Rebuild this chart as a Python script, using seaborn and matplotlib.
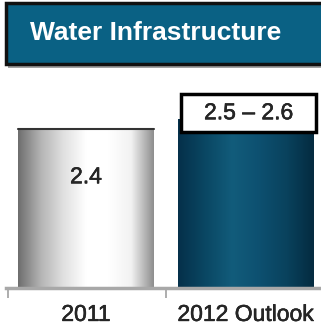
import numpy as np
import pandas as pd
import seaborn as sns
import matplotlib.pyplot as plt
import matplotlib.patheffects as pe
from matplotlib.patches import Rectangle
from matplotlib.colors import LinearSegmentedColormap

# data
years = ['2011', '2012 Outlook']
values = [2.4, 2.55]
labels = ['2.4', '2.5 – 2.6']
title = 'Water Infrastructure'

df = pd.DataFrame({'year': years, 'value': values})

sns.set_style('white')
plt.rcParams['font.family'] = ['Liberation Sans', 'DejaVu Sans']

fig = plt.figure(figsize=(3.21, 3.31), dpi=100)
ax = fig.add_axes([0.019, 0.131, 0.994, 0.658])

sns.barplot(x='year', y='value', data=df, width=0.85, color='white',
            edgecolor='none', ax=ax)
ax.set_xlim(-0.5, 1.5)
ax.set_ylim(0, 3.3)

# gradient fill for each bar
grey = LinearSegmentedColormap.from_list('g', ['#6e6e6e', '#b4b4b4', '#e0e0e0', '#ffffff', '#ffffff', '#f2f2f2', '#8e8e8e'])
teal = LinearSegmentedColormap.from_list('t', ['#05304a', '#0a4763', '#125c7b', '#0d5070', '#09425d', '#042b40'])
grad = np.linspace(0, 1, 256).reshape(1, -1)
for bar, cmap in zip(ax.patches, [grey, teal]):
    x0, w, h = bar.get_x(), bar.get_width(), bar.get_height()
    im = ax.imshow(grad, cmap=cmap, aspect='auto', extent=[x0, x0 + w, 0, h], zorder=2)
    im.set_clip_path(bar)
ax.plot([ax.patches[0].get_x(), ax.patches[0].get_x() + ax.patches[0].get_width()],
        [values[0], values[0]], color='#333333', lw=1.5, zorder=3)

thick = [pe.withStroke(linewidth=0.35, foreground='black')]

# value labels
ax.text(0, 1.68, labels[0], ha='center', va='center', fontsize=16.5, zorder=4, path_effects=thick)
b = ax.patches[1]
box = Rectangle((b.get_x() + 0.02, values[1] - 0.19), b.get_width(), 0.58,
                facecolor='white', edgecolor='black', lw=2.5, zorder=5)
ax.add_patch(box)
ax.text(1.02, values[1] + 0.1, labels[1], ha='center', va='center', fontsize=16.5, zorder=6,
        path_effects=thick)

# axis styling
for s in ['top', 'right', 'left']:
    ax.spines[s].set_visible(False)
ax.spines['bottom'].set_color('#a8a8a8')
ax.spines['bottom'].set_linewidth(2.5)
ax.set_yticks([])
ax.set_xlabel('')
ax.set_ylabel('')
ax.tick_params(axis='x', which='major', length=0, labelsize=16.5, pad=11)
for t in ax.get_xticklabels():
    t.set_path_effects(thick)
ax.set_xticks([-0.49, 0.5], minor=True)
ax.tick_params(axis='x', which='minor', bottom=True, length=7, width=1.2,
               color='#a0a0a0', direction='out')
ax.patch.set_alpha(0)

# title banner with shadow
fig.patches.append(Rectangle((0.024, 0.796), 1.0, 0.185, transform=fig.transFigure,
                             facecolor='#666666', edgecolor='none', alpha=0.6))
fig.patches.append(Rectangle((0.018, 0.806), 1.0, 0.185, transform=fig.transFigure,
                             facecolor='#0a6184', edgecolor='#111111', lw=2.5))
fig.text(0.093, 0.9, title, color='white', fontsize=19, fontweight='bold',
         ha='left', va='center')

fig.savefig('out.png', dpi=100)
